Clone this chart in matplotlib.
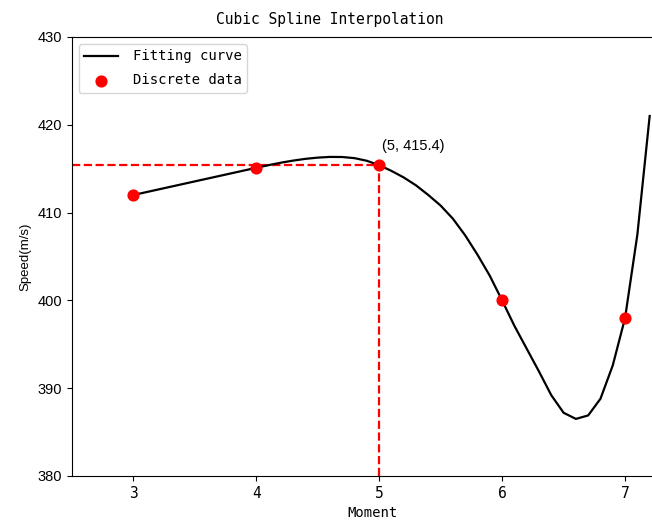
import matplotlib
matplotlib.use("Agg")
import matplotlib.pyplot as plt

# measured data
moments = [3, 4, 5, 6, 7]
speeds = [412.0, 415.1, 415.4, 400.0, 398.0]

# fitted curve (0.1 step)
curve_x = [3.0, 3.1, 3.2, 3.3, 3.4, 3.5, 3.6, 3.7, 3.8, 3.9,
           4.0, 4.1, 4.2, 4.3, 4.4, 4.5, 4.6, 4.7, 4.8, 4.9,
           5.0, 5.1, 5.2, 5.3, 5.4, 5.5, 5.6, 5.7, 5.8, 5.9,
           6.0, 6.1, 6.2, 6.3, 6.4, 6.5, 6.6, 6.7, 6.8, 6.9,
           7.0, 7.1, 7.2]
curve_y = [412.0, 412.31, 412.62, 412.93, 413.24, 413.55, 413.86, 414.17, 414.48, 414.79,
           415.1, 415.4, 415.68, 415.92, 416.12, 416.26, 416.34, 416.33, 416.2, 415.9,
           415.4, 414.75, 414.0, 413.1, 412.0, 410.8, 409.3, 407.4, 405.2, 402.8,
           400.0, 397.1, 394.5, 391.9, 389.2, 387.2, 386.5, 386.9, 388.8, 392.6,
           398.0, 407.5, 421.0]

x_mark, y_mark = 5, 415.4

mono = "DejaVu Sans Mono"
sans = "Liberation Sans"

fig = plt.figure(figsize=(6.52, 5.21), dpi=100)
ax = fig.add_axes([0.110, 0.0864, 0.943, 0.8426])

ax.plot(curve_x, curve_y, color="black", lw=1.6, label="Fitting curve", zorder=3)
ax.scatter(moments, speeds, color="red", s=60, label="Discrete data", zorder=4)

# guide lines to the marked point
ax.plot([2.5, x_mark], [y_mark, y_mark], "r--", lw=1.6, zorder=2)
ax.plot([x_mark, x_mark], [380, y_mark], "r--", lw=1.6, zorder=2)
ax.text(x_mark + 0.02, y_mark + 2.2, "(5, 415.4)", fontsize=10.5,
        family=sans, va="center", ha="left")

ax.set_xlim(2.5, 7.5)
ax.set_ylim(380, 430)
ax.set_xticks(moments)
ax.set_yticks([380, 390, 400, 410, 420, 430])

for lab in ax.get_xticklabels():
    lab.set_family(mono)
    lab.set_fontsize(10.5)
for lab in ax.get_yticklabels():
    lab.set_family(sans)
    lab.set_fontsize(10.5)

ax.set_title("Cubic Spline Interpolation", family=mono, fontsize=10.5, x=0.42, pad=9)
ax.set_xlabel("Moment", family=mono, fontsize=10)
ax.xaxis.set_label_coords(0.49, -0.068)
ax.set_ylabel("Speed(m/s)", family=sans, fontsize=9.5)

leg = ax.legend(loc="upper left", prop={"family": mono, "size": 10},
                handlelength=2.4, handletextpad=1.1, labelspacing=0.7)

fig.savefig("out.png", dpi=100)
